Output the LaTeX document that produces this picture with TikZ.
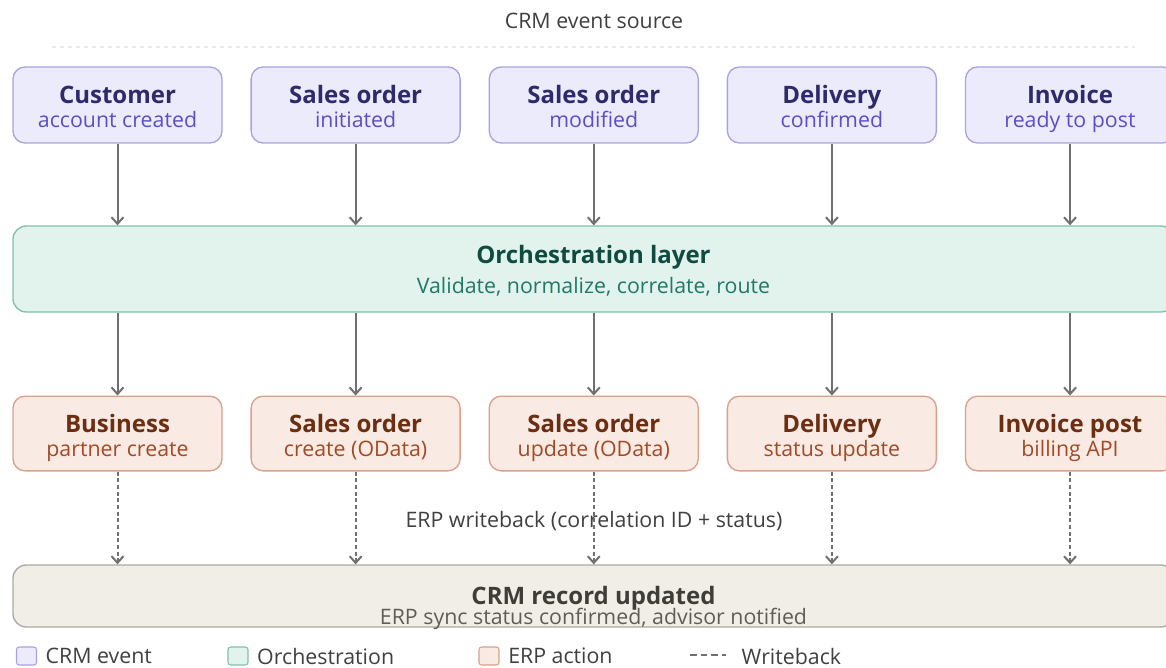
\documentclass[tikz,border=0pt]{standalone}
\usepackage{fontspec}
\setmainfont{Open Sans}
\usetikzlibrary{arrows.meta, positioning}
\definecolor{crmfill}{HTML}{ECEBFB}
\definecolor{crmline}{HTML}{A8A2E2}
\definecolor{crmhead}{HTML}{2E2A6B}
\definecolor{crmsub}{HTML}{5B4FC6}
\definecolor{orchfill}{HTML}{E1F3EC}
\definecolor{orchline}{HTML}{7DC2A8}
\definecolor{orchhead}{HTML}{0F4B3F}
\definecolor{orchsub}{HTML}{1F7A66}
\definecolor{erpfill}{HTML}{FAEAE4}
\definecolor{erpline}{HTML}{D9A08A}
\definecolor{erphead}{HTML}{6B2E12}
\definecolor{erpsub}{HTML}{A14A25}
\definecolor{recfill}{HTML}{F1EEE8}
\definecolor{recline}{HTML}{ABA9A3}
\definecolor{rechead}{HTML}{3F3D38}
\definecolor{recsub}{HTML}{5F5D57}
\definecolor{wire}{HTML}{707070}
\newcommand{\hd}[2][14pt]{{\fontsize{18}{18}\selectfont\bfseries\rule{0pt}{#1}#2}}
\newcommand{\subln}[2]{{\color{#1}\rule[-5pt]{0pt}{5pt}#2}}

\begin{document}
\setlength{\lineskiplimit}{-20pt}
\begin{tikzpicture}[x=0.75pt, y=-0.75pt, node distance=20.85pt, >={Straight Barb[length=5pt, width=9pt]},
  font=\fontsize{16}{18}\selectfont,
  crmbox/.style={draw=crmline, fill=crmfill, text=crmhead, line width=1pt, rounded corners=9pt, align=center, minimum width=156.75pt, minimum height=57pt},
  erpbox/.style={draw=erpline, fill=erpfill, text=erphead, line width=1pt, rounded corners=9pt, align=center, minimum width=156.75pt, minimum height=56pt},
  flow/.style={->, draw=wire, line width=1.5pt},
  wback/.style={->, draw=wire, line width=1.5pt, dash pattern=on 3pt off 2pt},
  legsq/.style={draw, line width=0.8pt, rounded corners=2pt, minimum width=15pt, minimum height=13.5pt, inner sep=0pt},
  legtxt/.style={text=black!75, font=\fontsize{16}{18}\selectfont}]
\useasboundingbox (0,0) rectangle (1166,667);

\node[text=black!75] (src) at (594,21) {CRM event source};
\coordinate (sepl) at (52,47);
\coordinate (sepr) at (1135,47);
\draw[black!8, line width=1pt, dashed] (sepl) -- (sepr);

% CRM events
\node[crmbox] (cust) at (117.5,105) {\hd[21pt]{Customer}\\\subln{crmsub}{account created}};
\node[crmbox, right=of cust] (soinit) {\hd[21pt]{Sales order}\\\subln{crmsub}{initiated}};
\node[crmbox, right=of soinit] (somod) {\hd[21pt]{Sales order}\\\subln{crmsub}{modified}};
\node[crmbox, right=of somod] (delconf) {\hd[21pt]{Delivery}\\\subln{crmsub}{confirmed}};
\node[crmbox, right=of delconf] (invready) {\hd[21pt]{Invoice}\\\subln{crmsub}{ready to post}};

% orchestration
\node[draw=orchline, fill=orchfill, text=orchhead, line width=1pt, rounded corners=10pt, align=center, minimum width=870.75pt, minimum height=64.5pt, font=\fontsize{16}{22.5}\selectfont] (orch) at (593.5,269) {\hd[19pt]{Orchestration layer}\\\subln{orchsub}{Validate, normalize, correlate, route}};

% ERP actions
\node[erpbox] (bp) at (117.5,433.5) {\hd[21pt]{Business}\\\subln{erpsub}{partner create}};
\node[erpbox, right=of bp] (socreate) {\hd[21pt]{Sales order}\\\subln{erpsub}{create (OData)}};
\node[erpbox, right=of socreate] (soupd) {\hd[21pt]{Sales order}\\\subln{erpsub}{update (OData)}};
\node[erpbox, right=of soupd] (delstat) {\hd[21pt]{Delivery}\\\subln{erpsub}{status update}};
\node[erpbox, right=of delstat] (invpost) {\hd[21pt]{Invoice post}\\\subln{erpsub}{billing API}};

\node[text=black!75] (wblabel) at (594,521) {ERP writeback (correlation ID + status)};

% record
\node[draw=recline, fill=recfill, line width=1pt, rounded corners=10pt, minimum width=870.75pt, minimum height=46.5pt] (rec) at (593.5,596) {};
\node[text=rechead, align=center, font=\fontsize{16}{15}\selectfont, yshift=-9pt] (rectxt) at (rec.center) {\hd{CRM record updated}\\\subln{recsub}{ERP sync status confirmed, advisor notified}};

\draw[flow] (cust) -- (cust |- orch.north);
\draw[flow] (soinit) -- (soinit |- orch.north);
\draw[flow] (somod) -- (somod |- orch.north);
\draw[flow] (delconf) -- (delconf |- orch.north);
\draw[flow] (invready) -- (invready |- orch.north);

\draw[flow] (orch.south -| bp) -- (bp);
\draw[flow] (orch.south -| socreate) -- (socreate);
\draw[flow] (orch.south -| soupd) -- (soupd);
\draw[flow] (orch.south -| delstat) -- (delstat);
\draw[flow] (orch.south -| invpost) -- (invpost);

\draw[wback] (bp) -- (bp |- rec.north);
\draw[wback] (socreate) -- (socreate |- rec.north);
\draw[wback] (soupd) -- (soupd |- rec.north);
\draw[wback] (delstat) -- (delstat |- rec.north);
\draw[wback] (invpost) -- (invpost |- rec.north);

% legend
\node[legsq, draw=crmline, fill=crmfill] (lcrm) at (26.5,656) {};
\node[legtxt, right=3pt of lcrm] (lcrmtxt) {CRM event};
\node[legsq, draw=orchline, fill=orchfill] (lorch) at (238,656) {};
\node[legtxt, right=3pt of lorch] (lorchtxt) {Orchestration};
\node[legsq, draw=erpline, fill=erpfill] (lerp) at (489,656) {};
\node[legtxt, right=3pt of lerp] (lerptxt) {ERP action};
\coordinate (lwbl) at (690,655);
\coordinate (lwbr) at (726,655);
\draw[wire, line width=1pt, dash pattern=on 5pt off 3pt] (lwbl) -- (lwbr);
\node[legtxt, anchor=west] (lwbtxt) at (737,656) {Writeback};
\end{tikzpicture}
\end{document}
